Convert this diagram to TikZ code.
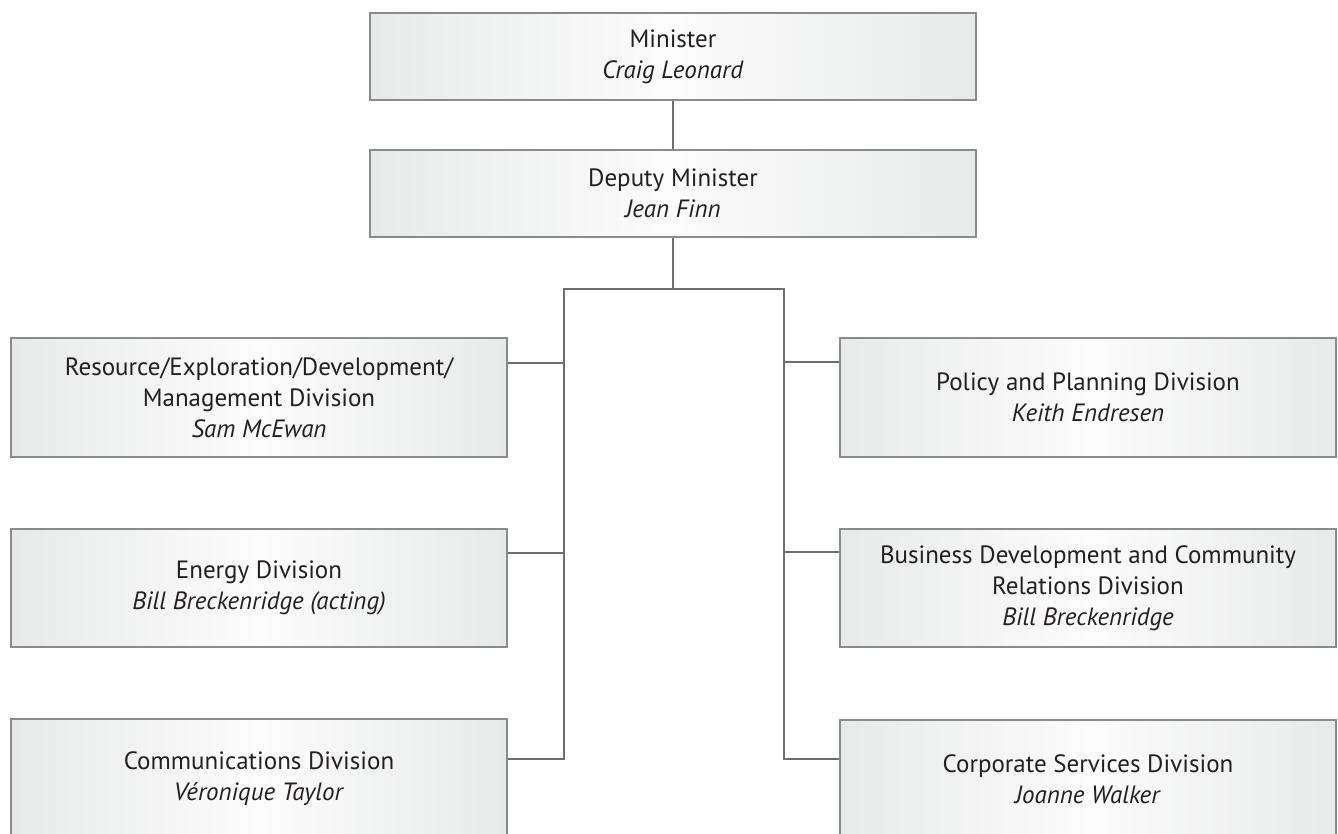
\documentclass[tikz,border=0pt]{standalone}
\usepackage{fontspec}
\setmainfont{PT Sans}
\begin{document}
\definecolor{boxedge}{HTML}{8A8B8C}
\definecolor{boxside}{HTML}{E8E9E9}
\definecolor{boxmid}{HTML}{FCFCFC}
\definecolor{linkcol}{HTML}{6D6E70}
\definecolor{inkcol}{HTML}{231F20}
\begin{tikzpicture}[x=1pt,y=-1pt,
  orgbox/.style={draw=boxedge, line width=1.6pt, left color=boxside, right color=boxside,
    middle color=boxmid, shading angle=90, align=center, text=inkcol, inner sep=0pt,
    font=\fontsize{25}{31}\selectfont},
  toprow/.style={orgbox, minimum width=606pt, minimum height=87pt},
  divbox/.style={orgbox, minimum width=496pt, minimum height=118pt},
  link/.style={draw=linkcol, line width=1.6pt}]
\useasboundingbox (0,0) rectangle (1338,833);
\clip (0,0) rectangle (1338,833);
\fill[white] (0,0) rectangle (1338,833);

% upper chain
\node[toprow] (min) at (673,56.5) {Minister\\\textit{Craig Leonard}};
\node[toprow] (dep) at (673,193.5) {Deputy Minister\\\textit{Jean Finn}};

% divisions
\node[divbox, minimum height=119pt] (res) at (259,397.5)
  {Resource/Exploration/Development/\\Management Division\\\textit{Sam McEwan}};
\node[divbox] (ene) at (259,588) {Energy Division\\\textit{Bill Breckenridge (acting)}};
\node[divbox, minimum height=119pt] (com) at (259,778.5)
  {Communications Division\\\textit{Véronique Taylor}};
\node[divbox, minimum height=119pt] (pol) at (1088,397.5)
  {Policy and Planning Division\\\textit{Keith Endresen}};
\node[divbox] (bus) at (1088,588)
  {Business Development and Community\\Relations Division\\\textit{Bill Breckenridge}};
\node[divbox, minimum height=118pt] (cor) at (1088,779)
  {Corporate Services Division\\\textit{Joanne Walker}};

% junctions
\coordinate (jl) at (564,289);
\coordinate (jr) at (784,289);
\coordinate (tres) at ([yshift=-26pt]res.north east);
\coordinate (tene) at ([yshift=-25pt]ene.north east);
\coordinate (tcom) at ([yshift=-41pt]com.north east);
\coordinate (tpol) at ([yshift=-25pt]pol.north west);
\coordinate (tbus) at ([yshift=-24pt]bus.north west);
\coordinate (tcor) at ([yshift=-40pt]cor.north west);

% connectors
\draw[link] (min.south) -- (dep.north);
\draw[link] (dep.south) -- (dep.south |- jl);
\draw[link] (tcom) -| (jl) -- (jr) |- (tcor);
\draw[link] (tres) -- (tres -| jl);
\draw[link] (tene) -- (tene -| jl);
\draw[link] (tpol) -- (tpol -| jr);
\draw[link] (tbus) -- (tbus -| jr);
\end{tikzpicture}
\end{document}
